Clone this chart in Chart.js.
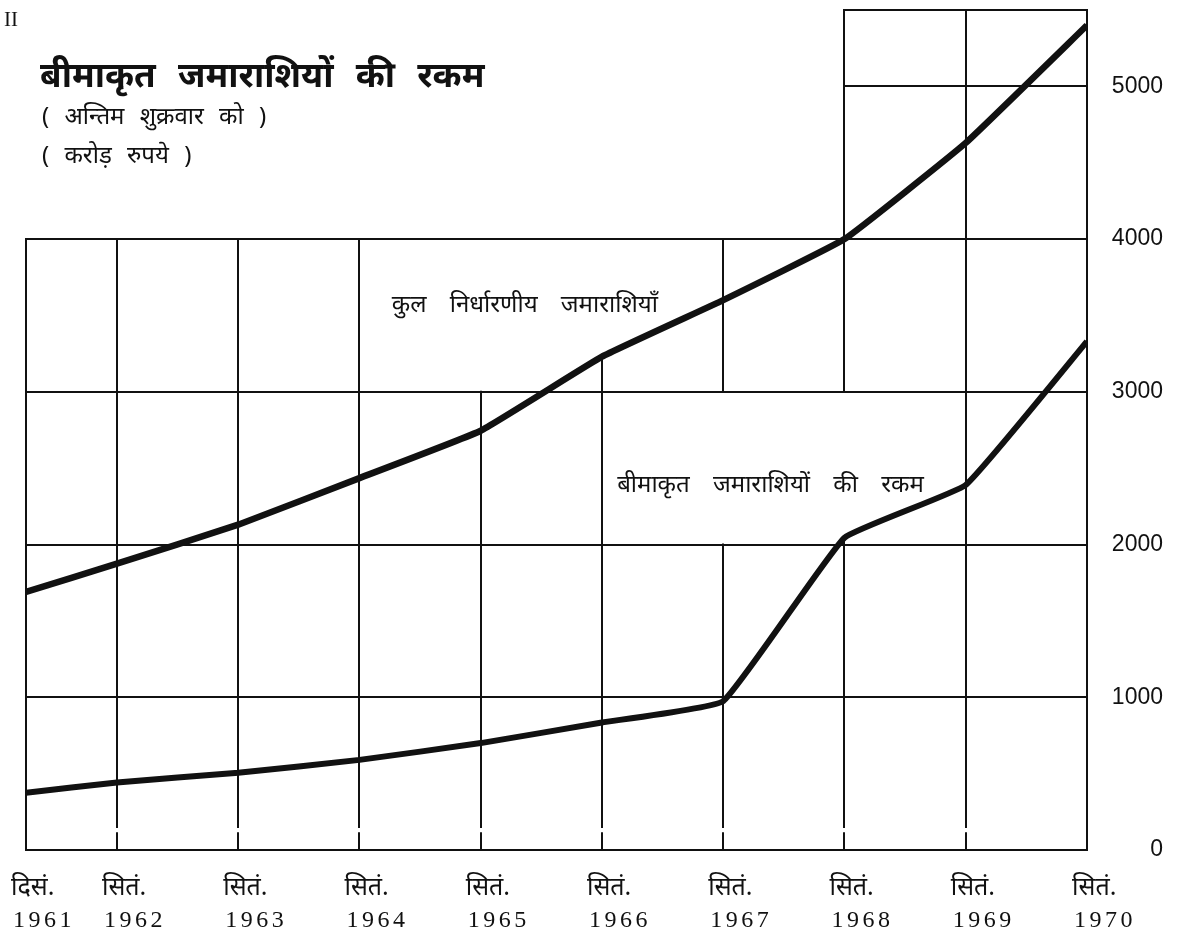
<!DOCTYPE html>
<html>
<head>
<meta charset="utf-8">
<script src="https://cdn.jsdelivr.net/npm/chart.js@4.4.0/dist/chart.umd.min.js"></script>
<style>
  html, body { margin: 0; padding: 0; background: #fff; }
  #wrap { width: 1180px; height: 932px; position: relative; }
</style>
</head>
<body>
<div id="wrap"><canvas id="chart"></canvas></div>
<script>
// x = months counted from Dec 1961
var monthIdx   = [0, 9, 21, 33, 45, 57, 69, 81, 93, 105];
var monthNames = ['दिसं.', 'सितं.', 'सितं.', 'सितं.', 'सितं.', 'सितं.', 'सितं.', 'सितं.', 'सितं.', 'सितं.'];
var years      = ['1961', '1962', '1963', '1964', '1965', '1966', '1967', '1968', '1969', '1970'];

// crore rupees, last Friday
var totalDeposits   = [1690, 1875, 2130, 2435, 2745, 3230, 3600, 4000, 4630, 5400];
var insuredDeposits = [375, 442, 506, 590, 700, 835, 975, 2045, 2390, 3330];

var yTicks = [0, 1000, 2000, 3000, 4000, 5000];
var yMax = 5500;

var titleText = 'बीमाकृत जमाराशियों की रकम';
var subTitle1 = '( अन्तिम शुक्रवार को )';
var subTitle2 = '( करोड़ रुपये )';
var totalLabel   = 'कुल निर्धारणीय जमाराशियाँ';
var insuredLabel = 'बीमाकृत जमाराशियों की रकम';

// the printed grid is broken around the labels: [x, yFrom, yTo] and [y, xFrom, xTo]
var vSegs = [
  [0, 0, 4000], [9, 0, 4000], [21, 0, 4000], [33, 0, 4000],
  [45, 0, 3000],
  [57, 0, totalDeposits[5]],
  [69, 0, 2000], [69, 3000, 4000],
  [81, 0, insuredDeposits[7]], [81, 3000, yMax],
  [93, 0, yMax], [105, 0, yMax]
];
var hSegs = [
  [0, 0, 105], [1000, 0, 105], [2000, 0, 105], [3000, 0, 105], [4000, 0, 105],
  [5000, 81, 105], [yMax, 81, 105]
];
var tickGap = [110, 150]; // little break in the inner verticals just above the base line

var DEVA = "'Noto Sans', 'Noto Sans Devanagari', 'Lohit Devanagari', sans-serif";

function pts(vals) {
  return vals.map(function (v, i) { return { x: monthIdx[i], y: v }; });
}

var paperGrid = {
  id: 'paperGrid',
  beforeDatasetsDraw: function (chart) {
    var ctx = chart.ctx, xs = chart.scales.x, ys = chart.scales.y;
    ctx.save();
    ctx.strokeStyle = '#111';
    ctx.lineWidth = 2;
    ctx.lineCap = 'square';
    ctx.beginPath();
    vSegs.forEach(function (s) {
      var x = Math.round(xs.getPixelForValue(s[0]));
      var inner = s[0] > 0 && s[0] < 105 && s[1] === 0;
      if (inner) {
        ctx.moveTo(x, ys.getPixelForValue(0));
        ctx.lineTo(x, ys.getPixelForValue(tickGap[0]));
        ctx.moveTo(x, ys.getPixelForValue(tickGap[1]));
      } else {
        ctx.moveTo(x, ys.getPixelForValue(s[1]));
      }
      ctx.lineTo(x, ys.getPixelForValue(s[2]));
    });
    hSegs.forEach(function (s) {
      var y = Math.round(ys.getPixelForValue(s[0]));
      ctx.moveTo(xs.getPixelForValue(s[1]), y);
      ctx.lineTo(xs.getPixelForValue(s[2]), y);
    });
    ctx.stroke();
    ctx.restore();
  }
};

var texts = {
  id: 'texts',
  afterDraw: function (chart) {
    var ctx = chart.ctx, xs = chart.scales.x, ys = chart.scales.y;
    ctx.save();
    ctx.fillStyle = '#111';
    ctx.textBaseline = 'middle';
    ctx.textAlign = 'left';
    ctx.font = '21px "Liberation Serif", serif';
    ctx.fillText('II', 4, 20);

    ctx.font = 'bold 35px ' + DEVA;
    ctx.wordSpacing = '13px';
    ctx.fillText(titleText, 40, 77);
    ctx.font = '24px ' + DEVA;
    ctx.wordSpacing = '9px';
    ctx.fillText(subTitle1, 42, 117);
    ctx.fillText(subTitle2, 42, 156);

    ctx.font = '24px ' + DEVA;
    ctx.wordSpacing = '17px';
    ctx.fillText(totalLabel, xs.getPixelForValue(36.2), ys.getPixelForValue(3570));
    ctx.fillText(insuredLabel, xs.getPixelForValue(58.5), ys.getPixelForValue(2390));
    ctx.wordSpacing = '0px';

    // x axis labels, hung just left of each vertical
    monthIdx.forEach(function (m, i) {
      var x = xs.getPixelForValue(m) - 15;
      ctx.font = '25px ' + DEVA;
      ctx.letterSpacing = '0px';
      ctx.fillText(monthNames[i], x, 888);
      ctx.font = '24px "Liberation Serif", serif';
      ctx.letterSpacing = '3.5px';
      ctx.fillText(years[i], x + 2, 921);
    });
    ctx.letterSpacing = '0px';
    ctx.restore();
  }
};

new Chart(document.getElementById('chart'), {
  type: 'line',
  data: {
    datasets: [
      { label: totalLabel, data: pts(totalDeposits), borderColor: '#111', borderWidth: 6.5,
        pointRadius: 0, tension: 0.1, fill: false },
      { label: insuredLabel, data: pts(insuredDeposits), borderColor: '#111', borderWidth: 6,
        pointRadius: 0, tension: 0.1, fill: false }
    ]
  },
  options: {
    responsive: true,
    maintainAspectRatio: false,
    animation: false,
    layout: { padding: { left: 26, top: 10, right: 17, bottom: 0 } },
    plugins: { legend: { display: false }, tooltip: { enabled: false } },
    scales: {
      x: {
        type: 'linear',
        min: 0, max: 105,
        grid: { display: false, drawTicks: false },
        border: { display: false },
        ticks: { display: false },
        afterFit: function (s) { s.height = 82; s.paddingLeft = 0; s.paddingRight = 0; }
      },
      y: {
        position: 'right',
        min: 0, max: yMax,
        grid: { display: false, drawTicks: false },
        border: { display: false },
        afterBuildTicks: function (s) { s.ticks = yTicks.map(function (v) { return { value: v }; }); },
        afterFit: function (s) { s.width = 76; s.paddingTop = 0; s.paddingBottom = 0; },
        ticks: {
          padding: 20,
          crossAlign: 'far',
          color: '#111',
          font: { family: "'Liberation Sans', sans-serif", size: 23 },
          callback: function (v) { return String(v); }
        }
      }
    }
  },
  plugins: [paperGrid, texts]
});
</script>
</body>
</html>
